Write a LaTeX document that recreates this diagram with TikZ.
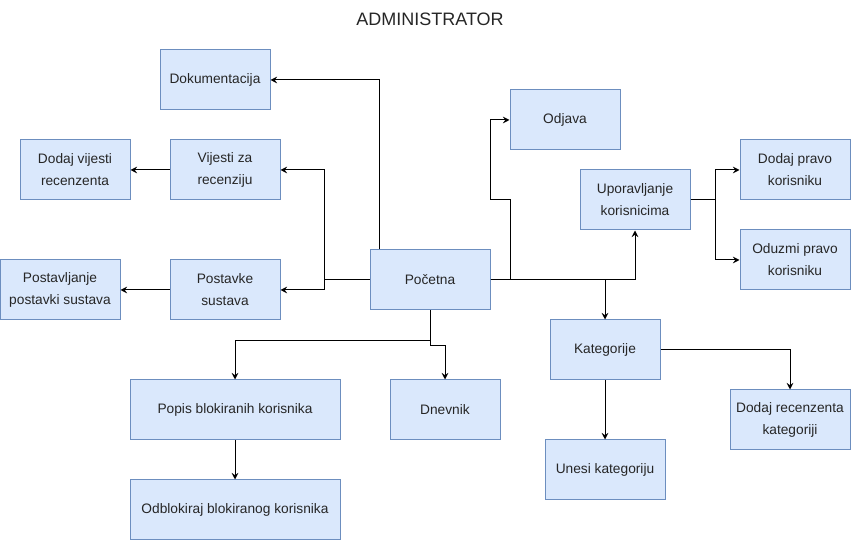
\documentclass[tikz,border=0pt]{standalone}
\usepackage{fontspec}
\setmainfont{Liberation Sans}
\usetikzlibrary{arrows.meta,calc}
\definecolor{boxfill}{HTML}{DAE8FC}
\definecolor{boxdraw}{HTML}{6C8EBF}
\begin{document}
\begin{tikzpicture}[x=0.75pt,y=-0.75pt,
  box/.style={draw=boxdraw,fill=boxfill,line width=0.75pt,minimum width=#1*0.75pt,minimum height=45pt,inner sep=0pt,align=center,font=\fontsize{10.3pt}{16.5pt}\selectfont,text=black!85},
  box/.default=110,
  arr/.style={draw=black,line width=0.75pt,-{Stealth[length=5pt,width=5pt,inset=1.8pt]}}]
\useasboundingbox (0,0) rectangle (851,541);
\node[font=\fontsize{13.5pt}{16pt}\selectfont,text=black!85] (title) at (430,19) {ADMINISTRATOR};
\node[box] (doc) at (215,80) {Dokumentacija};
\node[box] (dodajvij) at (75,170) {Dodaj vijesti\\recenzenta};
\node[box] (vijesti) at (225,170) {Vijesti za\\recenziju};
\node[box=120] (postavljanje) at (60,290) {Postavljanje\\postavki sustava};
\node[box] (postavke) at (225,290) {Postavke\\sustava};
\node[box=120] (pocetna) at (430,280) {Početna};
\node[box] (odjava) at (565,120) {Odjava};
\node[box] (upr) at (635,200) {Uporavljanje\\korisnicima};
\node[box] (dpravo) at (795,170) {Dodaj pravo\\korisniku};
\node[box] (opravo) at (795,260) {Oduzmi pravo\\korisniku};
\node[box] (kat) at (605,350) {Kategorije};
\node[box=120] (drec) at (790,420) {Dodaj recenzenta\\kategoriji};
\node[box=120] (unesi) at (605,470) {Unesi kategoriju};
\node[box=210] (popis) at (235,410) {Popis blokiranih korisnika};
\node[box] (dnevnik) at (445,410) {Dnevnik};
\node[box=210] (odblok) at (235,510) {Odblokiraj blokiranog korisnika};

\draw[arr] ($(pocetna.north west)+(10,0)$) |- (doc.east);
\draw[arr] (pocetna.west) -- ++(-45,0) |- (vijesti.east);
\draw[arr] (pocetna.west) -- ++(-45,0) |- (postavke.east);
\draw[arr] (vijesti.west) -- (dodajvij.east);
\draw[arr] (postavke.west) -- (postavljanje.east);
\draw[arr] (pocetna.east) -- ++(20,0) -- ++(0,-80) -- ++(-20,0) |- (odjava.west);
\draw[arr] (pocetna.east) -| (upr.south);
\draw[arr] (pocetna.east) -| (kat.north);
\draw[arr] (upr.east) -- ++(25,0) |- (dpravo.west);
\draw[arr] (upr.east) -- ++(25,0) |- (opravo.west);
\draw[arr] (kat.east) -| (drec.north);
\draw[arr] (kat.south) -- (unesi.north);
\draw[arr] (pocetna.south) -- ++(0,30) -| (popis.north);
\draw[arr] (pocetna.south) -- ++(0,35) -| (dnevnik.north);
\draw[arr] (popis.south) -- (odblok.north);
\end{tikzpicture}
\end{document}
